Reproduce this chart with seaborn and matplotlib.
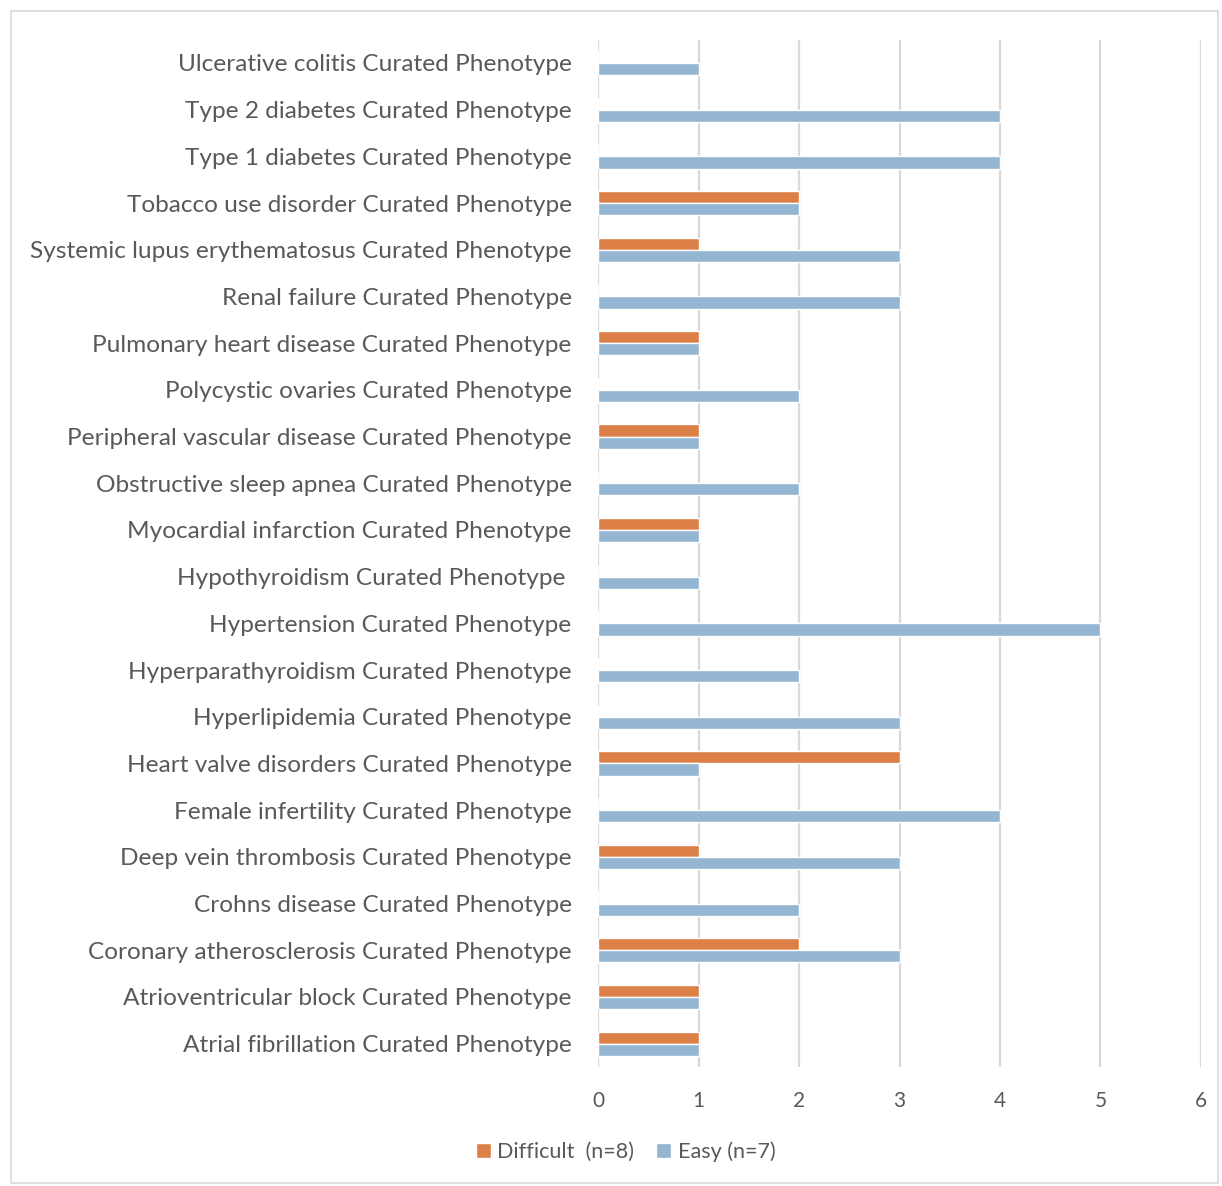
import matplotlib
matplotlib.use("Agg")
import matplotlib.pyplot as plt
from matplotlib.patches import Rectangle
import seaborn as sns
import pandas as pd

categories = [
    "Ulcerative colitis Curated Phenotype",
    "Type 2 diabetes Curated Phenotype",
    "Type 1 diabetes Curated Phenotype",
    "Tobacco use disorder Curated Phenotype",
    "Systemic lupus erythematosus Curated Phenotype",
    "Renal failure Curated Phenotype",
    "Pulmonary heart disease Curated Phenotype",
    "Polycystic ovaries Curated Phenotype",
    "Peripheral vascular disease Curated Phenotype",
    "Obstructive sleep apnea Curated Phenotype",
    "Myocardial infarction Curated Phenotype",
    "Hypothyroidism Curated Phenotype ",
    "Hypertension Curated Phenotype",
    "Hyperparathyroidism Curated Phenotype",
    "Hyperlipidemia Curated Phenotype",
    "Heart valve disorders Curated Phenotype",
    "Female infertility Curated Phenotype",
    "Deep vein thrombosis Curated Phenotype",
    "Crohns disease Curated Phenotype",
    "Coronary atherosclerosis Curated Phenotype",
    "Atrioventricular block Curated Phenotype",
    "Atrial fibrillation Curated Phenotype",
]
difficult = [0, 0, 0, 2, 1, 0, 1, 0, 1, 0, 1, 0, 0, 0, 0, 3, 0, 1, 0, 2, 1, 1]
easy = [1, 4, 4, 2, 3, 3, 1, 2, 1, 2, 1, 1, 5, 2, 3, 1, 4, 3, 2, 3, 1, 1]
series_names = ["Difficult  (n=8)", "Easy (n=7)"]
colors = ["#DD8047", "#94B6D2"]
x_ticks = [0, 1, 2, 3, 4, 5, 6]

df = pd.DataFrame({
    "phenotype": categories * 2,
    "group": [series_names[0]] * len(categories) + [series_names[1]] * len(categories),
    "count": difficult + easy,
})

sns.set_theme(style="white")
plt.rcParams["font.family"] = ["Lato", "DejaVu Sans"]
text_color = "#595959"

fig = plt.figure(figsize=(12.22, 11.86), dpi=100)
ax = fig.add_axes([0.4894, 0.1003, 0.4934, 0.8663])

sns.barplot(
    data=df, y="phenotype", x="count", hue="group",
    order=categories, hue_order=series_names, palette=colors,
    orient="h", width=0.52, saturation=1, ax=ax, legend=True,
)

ax.set_xlim(0, 6)
ax.set_ylim(len(categories) - 0.5, -0.5)
ax.set_xticks(x_ticks)
ax.set_xlabel("")
ax.set_ylabel("")
ax.grid(axis="x", color="#D9D9D9", linewidth=1.6)
ax.set_axisbelow(True)
for s in ax.spines.values():
    s.set_visible(False)
ax.tick_params(axis="y", length=0, pad=19, labelsize=17.6, labelcolor=text_color)
ax.tick_params(axis="x", length=0, pad=17, labelsize=15, labelcolor=text_color)

handles, labels = ax.get_legend_handles_labels()
ax.get_legend().remove()
fig.legend(
    handles, labels, loc="center", bbox_to_anchor=(0.512, 0.0287),
    ncol=2, frameon=False, fontsize=15.6, labelcolor=text_color,
    handlelength=0.7, handleheight=0.7, handletextpad=0.3, columnspacing=1.0,
)

fig.add_artist(Rectangle((11 / 1222, 3 / 1186), 1207 / 1222, 1172 / 1186,
                         transform=fig.transFigure, fill=False,
                         edgecolor="#D9D9D9", linewidth=1.2))

fig.savefig("out.png", dpi=100)
